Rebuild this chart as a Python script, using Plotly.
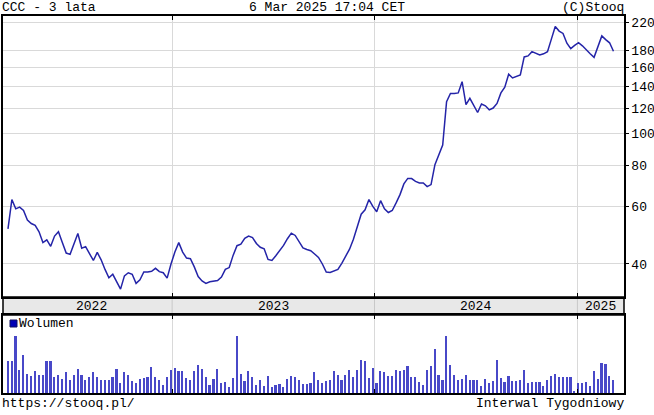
import math
import pandas as pd
import plotly.graph_objects as go

# ---- data ----
price = [51.2, 63, 59, 59.7, 58.3, 54.5, 53.2, 52.5, 50.2, 46.5,
         47.4, 45.3, 48.7, 50.2, 46.5, 43.2, 42.8, 45.8, 49.6, 44.7,
         45.2, 43, 41, 43.4, 41.2, 38.5, 36.3, 37.2, 35.2, 33.5,
         36.8, 37.6, 37.2, 34.9, 35.8, 37.8, 37.8, 38, 38.8, 37.9,
         37.6, 36.2, 40, 43.5, 46.5, 43.5, 41.7, 41.5, 39.2, 36.6,
         35.5, 34.9, 35.3, 35.4, 35.6, 36.5, 38.5, 39, 42.5, 45.5,
         46, 47.9, 48.7, 48.2, 46.2, 45, 44.5, 41.3, 41, 42.4,
         43.8, 45.6, 47.8, 49.7, 48.9, 46.7, 44.8, 44.3, 43.9, 42.9,
         41.9, 40, 37.8, 37.7, 38, 38.5, 40.2, 42.1, 44.4, 47.6,
         52, 56.8, 58.6, 63, 60, 57.8, 62.5, 59, 57.5, 58.3,
         61.5, 65.2, 70.3, 73.1, 73, 71.6, 70.8, 70.8, 69, 70,
         80.5, 86, 92.5, 125.5, 133, 133, 133.5, 144.5, 123, 128.5,
         122, 116.3, 123.5, 121.9, 118.5, 120, 124, 133.5, 139, 152.3,
         148.3, 150, 151.5, 172, 173.2, 178.5, 176.8, 174.3, 175.8, 178.5,
         195, 213, 206.4, 203, 189.5, 182.3, 186.5, 190.2, 186, 181.5,
         176, 171.5, 186.5, 199.5, 194.3, 190, 179]

volume = [320, 320, 570, 230, 380, 190, 170, 220, 180, 180,
          320, 320, 160, 180, 140, 210, 130, 180, 240, 180,
          130, 160, 210, 160, 130, 130, 130, 160, 240, 100,
          210, 180, 120, 100, 140, 150, 160, 260, 160, 130,
          80, 160, 230, 250, 220, 220, 150, 130, 220, 280,
          240, 160, 80, 140, 240, 100, 110, 60, 150, 570,
          190, 120, 220, 160, 80, 130, 70, 170, 60, 80,
          90, 60, 140, 170, 160, 130, 90, 90, 100, 210,
          130, 100, 120, 130,
          220, 180, 130, 180, 230, 160, 230, 330, 320, 150,
          250, 100, 220, 210, 170, 170, 230, 220, 230, 270,
          160, 160, 110, 80, 230, 270, 440, 180, 130, 580,
          280, 180, 130, 140, 180, 130, 130, 130, 70, 140,
          100, 120, 330, 150, 110, 170, 120, 120, 130, 230,
          100, 110, 110, 110, 70, 130, 170, 190, 160, 160,
          160, 160, 20, 100, 100, 110, 70, 220, 140, 300,
          290, 170, 130]

dates = pd.date_range(end="2025-03-07", periods=len(price), freq="W-FRI")

price_ticks = [40, 60, 80, 100, 120, 140, 160, 180, 220]
year_bounds = ["2023-01-01", "2024-01-01", "2025-01-01"]
year_labels = ["2022", "2023", "2024", "2025"]
year_label_pos = ["2022-08-08", "2023-07-02", "2024-07-02", "2025-02-12"]
x_range = ["2022-03-02", "2025-03-26"]

title_left = "CCC - 3 lata"
title_mid = "6 Mar 2025 17:04 CET"
title_right = "(C)Stooq"
foot_left = "https://stooq.pl/"
foot_right = "Interwal Tygodniowy"
vol_name = "Wolumen"

# ---- figure ----
FONT = "Liberation Mono, DejaVu Sans Mono, monospace"
W, H = 654, 415
ML, MR, MT, MB = 3, 30, 16, 22
PH = H - MT - MB  # plot area height
PW = W - ML - MR
price_dom = [(393 - 297) / PH, 1.0]
vol_dom = [0.0, (393 - 315) / PH]
band = [(393 - 315) / PH, (393 - 297) / PH]

ylog_range = [math.log10(31.7), math.log10(229.5)]

fig = go.Figure()
fig.add_trace(go.Scatter(x=dates, y=price, mode="lines",
                         line=dict(color="#2424a8", width=1.5),
                         xaxis="x", yaxis="y", showlegend=False))
fig.add_trace(go.Bar(x=dates, y=volume, marker=dict(color="#4848c8", line=dict(width=0)),
                     width=3.0 * 86400000, xaxis="x2", yaxis="y2", showlegend=False))

grid = "#d9d9d9"
fig.update_layout(
    width=W, height=H,
    margin=dict(l=ML, r=MR, t=MT, b=MB, pad=0, autoexpand=False),
    paper_bgcolor="white", plot_bgcolor="white",
    font=dict(family=FONT, size=13, color="black"),
    bargap=0,
    xaxis=dict(domain=[0, 1], type="date", range=x_range, anchor="y",
               tickvals=year_bounds, showticklabels=False,
               ticks="inside", ticklen=4, tickcolor="black",
               showgrid=True, gridcolor=grid, gridwidth=1,
               showline=True, linecolor="black", linewidth=1.5, mirror="ticks",
               zeroline=False),
    yaxis=dict(domain=price_dom, type="log", range=ylog_range, side="right",
               anchor="x", tickvals=price_ticks, ticktext=[str(v) for v in price_ticks],
               ticks="outside", ticklen=3, tickcolor="black",
               showgrid=True, gridcolor=grid, gridwidth=1,
               showline=True, linecolor="black", linewidth=1.5, mirror=True,
               tickfont=dict(family=FONT, size=13, color="black"),
               zeroline=False),
    yaxis3=dict(type="log", range=ylog_range, overlaying="y", side="left",
                anchor="x", tickvals=price_ticks, showticklabels=False,
                ticks="inside", ticklen=4, tickcolor="black",
                showgrid=False, showline=False, zeroline=False),
    xaxis2=dict(domain=[0, 1], type="date", range=x_range, anchor="y2",
                matches="x",
                tickvals=year_bounds, showticklabels=False,
                ticks="inside", ticklen=4, tickcolor="black",
                showgrid=True, gridcolor=grid, gridwidth=1,
                showline=True, linecolor="black", linewidth=1.5, mirror="ticks",
                zeroline=False),
    yaxis2=dict(domain=vol_dom, range=[0, max(volume) * 78 / 57.5], anchor="x2",
                side="right", showticklabels=False, ticks="",
                showgrid=False, showline=True, linecolor="black", linewidth=1.5,
                mirror=True, zeroline=False),
)

# year band
fig.add_shape(type="rect", xref="paper", yref="paper", x0=0, x1=1,
              y0=band[0], y1=band[1], fillcolor="#e8e8e8",
              line=dict(color="black", width=1.5), layer="below")
for yb in year_bounds:
    fig.add_shape(type="line", xref="x", yref="paper", x0=yb, x1=yb,
                  y0=band[0], y1=band[1], line=dict(color="#c8c8c8", width=1), layer="below")
for lbl, pos in zip(year_labels, year_label_pos):
    fig.add_annotation(x=pos, xref="x", y=(band[0] + band[1]) / 2, yref="paper",
                       text=lbl, showarrow=False, xanchor="center", yanchor="middle",
                       font=dict(family=FONT, size=13, color="black"))

# header / footer texts
fig.add_annotation(x=0, y=1, xref="paper", yref="paper", text=title_left, showarrow=False,
                   xanchor="left", yanchor="bottom", xshift=-3, yshift=-1)
fig.add_annotation(x=(327 - ML) / PW, y=1, xref="paper", yref="paper",
                   text=title_mid, showarrow=False, xanchor="center", yanchor="bottom", yshift=-1)
fig.add_annotation(x=1, y=1, xref="paper", yref="paper", text=title_right, showarrow=False,
                   xanchor="right", yanchor="bottom", xshift=2, yshift=-1)
fig.add_annotation(x=0, y=0, xref="paper", yref="paper", text=foot_left, showarrow=False,
                   xanchor="left", yanchor="top", xshift=-3, yshift=-1)
fig.add_annotation(x=1, y=0, xref="paper", yref="paper", text=foot_right, showarrow=False,
                   xanchor="right", yanchor="top", xshift=2, yshift=-1)

# volume legend
sq_x0 = 7 / PW
sq_x1 = 14 / PW
sq_y1 = (393 - 320) / PH
sq_y0 = (393 - 327) / PH
fig.add_shape(type="rect", xref="paper", yref="paper", x0=sq_x0, x1=sq_x1, y0=sq_y0, y1=sq_y1,
              fillcolor="#0000b4", line=dict(color="#101060", width=1))
fig.add_annotation(x=sq_x1, y=(sq_y0 + sq_y1) / 2, xref="paper", yref="paper", text=vol_name,
                   showarrow=False, xanchor="left", yanchor="middle", xshift=0)

fig.write_html("out.html",
               config={"displayModeBar": False},
               post_script="document.body.style.margin='0';document.body.style.padding='0';")
